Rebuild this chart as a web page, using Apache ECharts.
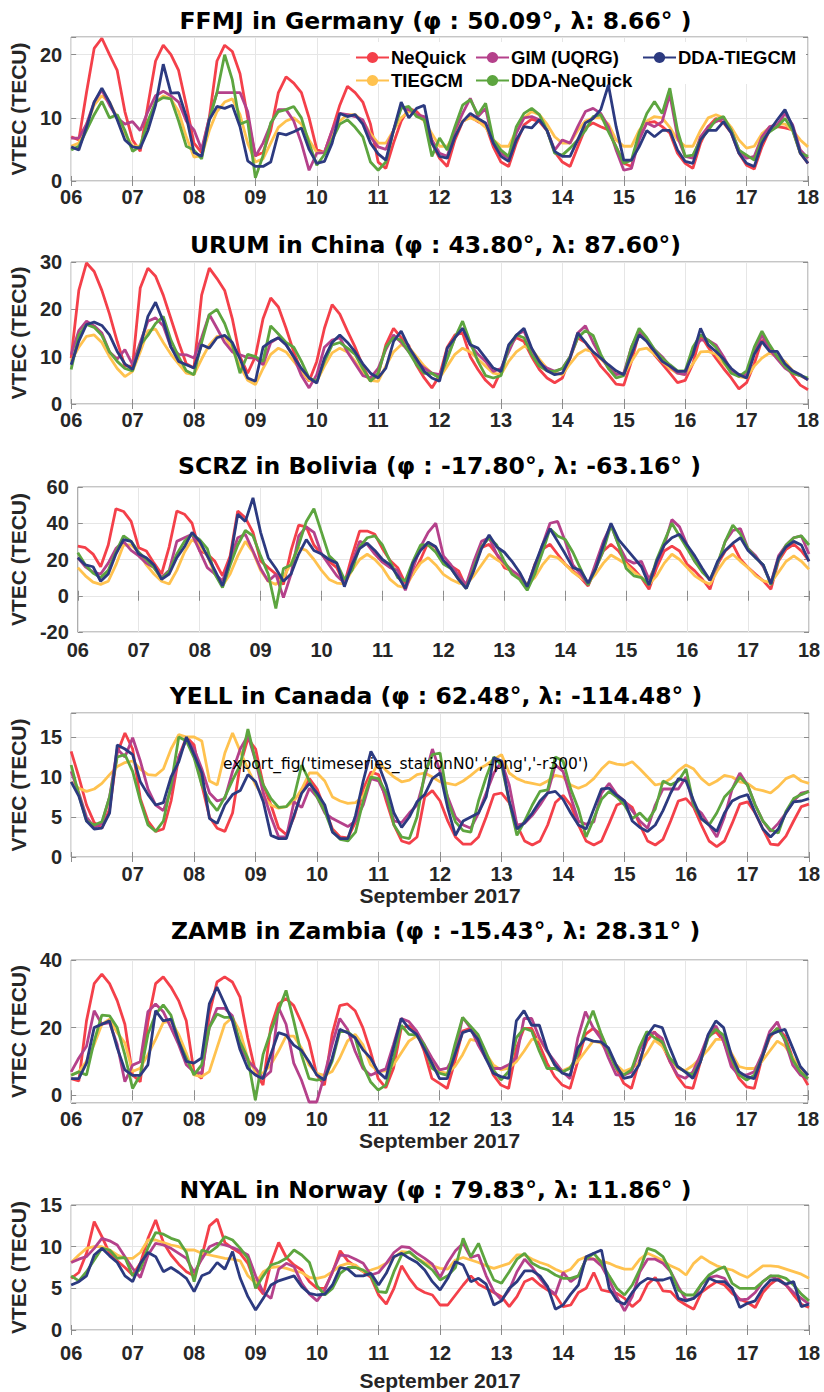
<!DOCTYPE html>
<html><head><meta charset="utf-8">
<script src="https://cdn.jsdelivr.net/npm/echarts@6/dist/echarts.min.js"></script>
<style>html,body{margin:0;padding:0;background:#fff}#c{width:824px;height:1392px}</style>
</head><body><div id="c"></div>
<script>
// ---------------- DATA (3-hourly samples, 6 Sep 00UT .. 18 Sep 00UT) ----------------
const seriesNames = ['NeQuick','TIEGCM','GIM (UQRG)','DDA-NeQuick','DDA-TIEGCM'];
const stationTitles = [
 'FFMJ in Germany (φ : 50.09°, λ: 8.66° )',
 'URUM in China (φ : 43.80°, λ: 87.60°)',
 'SCRZ in Bolivia (φ : -17.80°, λ: -63.16° )',
 'YELL in Canada (φ : 62.48°, λ: -114.48° )',
 'ZAMB in Zambia (φ : -15.43°, λ: 28.31° )',
 'NYAL in Norway (φ : 79.83°, λ: 11.86° )'];
const dayTicks = ['06','07','08','09','10','11','12','13','14','15','16','17','18'];
const xAxisTitle = 'September 2017';
const yAxisTitle = 'VTEC (TECU)';
const noteText = "export_fig('timeseries_stationN0','-png','-r300')";

const FFMJ_NeQuick = [7,6.5,14,21,22.6,20,17.5,11, 6.5,4.7,12,19,21.5,20,17.5,12, 6,4.5,10,19,21.5,20.5,17,10, 4,4.5,8,14,16.5,15.5,14,10, 5,4.5,8,12,15,14,12.5,9, 3,2,6,9.5,11.5,11,9.7,6, 3.6,2.3,6.5,9.4,10.2,9.4,8.9,5.4, 3,2.3,6,8.9,9.8,9.4,8,4.6, 3,2.3,5.4,8.4,9.2,8.6,8.1,5.4, 2.8,2.3,7,9.2,9.4,8.6,7.6,4.4, 2.8,2,6,8.6,9.9,9.2,7.6,4.4, 2.5,1.9,5.4,8.1,8.6,8.4,8.1,4.4, 2.8];
const FFMJ_TIEGCM = [5.5,6,9,12,13.5,12.5,10,7.5, 5.5,5.5,9,12.5,13.5,13,11,7, 3.8,4,8,11,12.5,13,10.5,6, 3,3.5,6,8.5,9.5,10,9,6.5, 4.5,4.5,7,9.5,10.5,10.5,9.5,7.5, 6,6,8,10,11,10.5,9.5,7.5, 5.5,5.5,7.5,9.5,10,9.5,8.5,6.5, 5.5,5.5,8,10,11,10.5,9,7, 6,6,8,9.5,10,10,9,6.5, 5.5,5.5,8,9.5,10.2,10,8.5,6.5, 5.5,5.5,8,10,10.5,10,8.5,6.5, 5.2,5.5,7.5,8.5,9,9,8,6.5, 5.4];
const FFMJ_GIM = [6.8,6.8,9,12.5,14.4,12,10,9, 9.4,8,11,13.5,14.2,13.5,12.5,9.5, 8.1,5,10,14,14,14,14,11, 3.9,6,9,11.3,11.3,9.5,6,1.7, 4.4,4.5,8,10.7,10.5,10.2,9.7,7, 5.4,5,8,11.8,11.3,10.5,10.2,6.5, 4.4,3.9,8,10.7,13.1,10.2,11.5,6, 4.4,3.6,7.6,10,10.2,9.7,8,4.9, 6.5,6,8.6,11,11.5,10.7,8.6,4.9, 1.7,2,6.5,9.2,8.6,9.4,13.7,7, 3.9,3.6,7,8.6,9.4,9.9,8,4.9, 3.6,3.9,7,8.6,8.9,10.7,8.9,4.9, 3.6];
const FFMJ_DDANeQuick = [4.9,5.5,8,10.5,12.6,10,10.5,8, 4.7,5.5,9.5,12.5,13.2,13,9.5,5.5, 4.9,3.5,9.7,14,20,16,9,9.5, 0.5,4,9.2,11,11.3,11.8,10,6, 2.5,4.2,6.5,9,9.7,8.5,7,3, 1.7,3,8,11.5,11.8,10.2,9.7,3.9, 6.8,4.9,8.6,12,12.9,10.5,12.3,6.5, 4.9,3.9,8.6,10.7,11.5,10.5,8,4.4, 4.1,5.2,6.5,8,10.2,10.5,7.8,5.4, 2.8,3.3,7.6,10.7,12.6,10.7,14.7,8, 3.9,4.1,6.5,8,9.7,10.2,8,4.9, 4.1,3.3,6.5,7.8,8.6,9.9,8,4.4, 3.9];
const FFMJ_DDATIEGCM = [5.4,4.9,8.5,12.5,14.7,12.5,9.7,6.5, 5.4,5.2,8,12,18.5,13.9,14,10.2, 4.5,3.9,9.7,11.8,11.5,12,8.6,3.2, 2.3,2.3,3,7.6,7.3,7.8,8.4,5, 2.8,3.1,6,10.7,10.2,10.5,9,6, 4.3,3.3,8,12.5,10,11.5,12,6, 3.9,3.6,7,9.4,10.7,9.9,9.2,6, 3.9,3.1,6.5,8.6,8.4,9.7,8,4.7, 3.9,3.9,6.5,9.2,9.9,11.3,15.2,8.6, 3.3,3.3,5.4,8,7,8,8,4.9, 3.1,2.8,6.5,8,8,9.4,7.6,4.4, 2.8,2.3,6,8,9.7,11.3,8.6,4.4, 2.8];

const URUM_NeQuick = [9.7,24,29.8,28,24,19,13.2,8, 8,24.5,28.7,27,23,18,13,8.5, 7.6,23,28.7,26.5,24,18,10,6.5, 10,18,22.4,20.5,16,11,7,4.8, 9,16,21,19,15.4,12,8,4.8, 6.2,12.5,16,14,12.3,8.2,5.5,3.4, 6,12,14.6,15,10,7.3,5,3.5, 7,12,14,13.2,10,7.3,5.5,4.5, 5.5,9.7,14,13,10.5,8,6.2,4.2, 4,9,15,13.5,10.4,8.5,6.5,4.5, 5,8.5,14.6,12,9.7,7.5,5.5,3.2, 4.5,8.5,13.5,12,10,8.5,6,4, 3];
const URUM_TIEGCM = [9,12,14.3,14.6,13,10,7.5,5.8, 6.9,11,15.5,15.8,13,10.5,8.5,6.5, 6.2,9.5,12.5,14.3,14.3,11.5,8,5, 4.1,7.5,10.5,11.8,11,9,7,5, 4.8,8,10.8,11.8,11,9,6.5,5, 4.8,8,11,12.5,12,10,8,6.5, 5.5,8,10.5,11.8,11,9.5,8,6.5, 6.2,9,11,12.2,11.5,9.5,7.5,6.5, 6.2,8.5,10.5,11.5,11,9.5,8,6.8, 6.2,9,11.5,11.8,10.5,9,7.5,6.5, 6.2,8.5,11,11.1,10.5,8.5,7,5.8, 5.5,8,9.7,10.8,10,9,7,6, 5.1];
const URUM_GIM = [10.4,15.5,17.5,16.5,15,11,9.5,11.5, 8.3,13,17.5,18.2,16.5,12,10.5,10.4, 9.7,14,18.9,16,13,11,10.4,9.8, 9.7,8.3,13,14,12.5,10,6,3.4, 6.2,12,13.5,14,11,8.5,6,5.5, 7.5,11.5,14.6,13,11,9,7.6,6.5, 6.2,10,14,16,12.5,10.5,9,6.9, 7.5,11,14.6,15.4,11.5,8.5,7.6,6.9, 7.5,10,15,16.5,13,10,7.6,6.2, 6.5,12,15.4,13.5,11.5,10,8,6.5, 6.2,11.5,13.5,13.5,12.5,10,7,6.2, 6.2,11,14.6,11.5,9.5,7.6,6.5,6, 5.1];
const URUM_DDANeQuick = [7.3,14.5,16.8,16.2,14.5,11,9,7.5, 7,12.5,14.5,17,18.5,13.5,10,7, 6.2,13,18.9,20,17,12.5,6.5,10.5, 10,9,16.5,14.8,13,12,9,5.5, 4.8,9,12.5,13,11.8,10.5,7.5,4.8, 6.5,12,14,13.5,11,8.3,6.5,6.5, 5.5,9.5,14,17.5,13,9,6,5.5, 6,12,14.6,14,10.4,8,7,6.9, 7.5,10,14,15.5,14.5,10.5,7.5,5.5, 6,12,16,14,11.5,9.7,8.3,7, 7,12,14.6,13.5,12,9,6.5,5.8, 7,12,15.4,12.5,10,8,6.5,6, 5.5];
const URUM_DDATIEGCM = [8.3,13.3,16.8,17.3,16.6,14.6,11.1,8.5, 7.3,12,18.5,21.5,17.5,12,9,8.3, 7.6,12.5,11.8,14,14.5,13,9.5,5.5, 4.8,12,13.2,14,12.5,10,7.5,5.5, 4.4,9.7,13,14.6,13,11,8.5,6.5, 5.5,7.6,13.2,15.4,12,9.5,6.9,5.5, 4.8,11.8,14,16,12.5,11.8,9.7,7.6, 6.9,12.5,14.5,16,11.8,9,7,6.2, 6.5,9.7,15,13,11,9.7,8.3,7, 6.2,10.4,14.6,13.2,11.1,9,8,6.9, 6.9,10.4,16,12.5,11.1,9.5,7.5,6.2, 5.5,10.5,13.2,11.1,11.1,8.5,7,6.2, 5.1];

const SCRZ_NeQuick = [27.4,26.5,23,16,28,48,46.5,41, 26.5,24.7,18,12,27,46.8,45,40, 24.7,23,19,11,22,46.8,43,35, 19.2,15.5,12,6.3,25,39,38,28, 23,19,15.5,6.5,22,35.7,35.7,33.9, 26,19.5,15.5,7,12,20,29.5,26.5, 19,16.4,13.7,4.5,15.5,26.5,28.4,22.9, 15.5,13.7,10,4.5,17.3,25.6,28.4,22.9, 17.3,13.7,10,5.4,15.5,24.7,28.4,24.7, 18.3,14.6,10,3.6,15.5,24.7,27.4,24.7, 17.3,13.7,9.1,3.6,17.3,24.7,28.4,20.1, 15.5,11.8,8.2,3.6,19.2,25.6,28.4,24.7, 19.2];
const SCRZ_TIEGCM = [15.5,11,7.5,6.3,8,17,28,28, 24,17,12,8,6.5,14,24,31, 28,22,12,5.5,12,22,30,24, 14,8,6.3,10,18,26.5,25,20, 14,9,7,6.5,14,20,22.9,20, 15.5,9,5.5,4.5,12,18,21,17, 11.8,9,7,6.3,11,17,22.9,20, 17.3,13,10,6.5,10,17,22,21, 17.3,13,10,7.2,12,18,22.5,20, 17.3,13,10,6.3,11,18,22.9,20, 15.5,11,8.2,6.3,14,20,22.9,19, 15.5,11,8.2,7.2,13,19,22,19, 14.6];
const SCRZ_GIM = [21,16,13,12,18,26,30,25, 22,18,15.5,10,14,30,32,33.9, 24.7,15.5,12,8.2,20,32,33.9,24.7, 15,8,11.8,-1,12,33,38,35, 23,17,11,7,18,30,28.4,23, 18.5,15.5,14,3,15,27,35,40, 22,17,11,6.3,19,30,32,23, 18,14,11,5,15,28,40,41, 30,17,12,6,18,30,39,28, 20,18,19,9,18,28,42,38, 28,19,14,8.5,17,30,36,37, 26,22,16,7,22,28,32,33, 23];
const SCRZ_DDANeQuick = [23.8,17,12.5,10,14,24,33,30, 24,20,15.5,9.5,13.5,23,30,33.9, 31,26,12,4.5,17,28,36,33, 22,12,-7,15,17,28,41,48, 35,22,18,9,14,27,32,33, 28,19,10,8.2,19,28,28,24, 17.5,15,9,4,15.5,27,32,28, 19,12,9,3,12,24,37,33, 31,24,15,6,15,25,39,28, 15,11,10,6,20,30,40,33, 26,19,13,9,18,30,39,34, 26,21,17,6,20,28,32,33, 28];
const SCRZ_DDATIEGCM = [21,17,16,8,12,23,31,30, 23,21,17,9,12,21,27,35, 30,22,14,5.5,20,45,41,54, 35,21,15,8,12,23,31,25, 23,20,18,5,17,26,29,25, 20,17,11,4,18,25,29.5,27, 19.5,15,9,4,14,26,33.5,27, 24,19,13,5,17,28,37,30, 23,15.5,14,7,15,28,40,31, 26,21,16,6,19,28,32,33.9, 28,22,15,8.5,19,25,29,32, 25,21,17,6.5,21,27,30,28, 19];

const YELL_NeQuick = [13.2,10,6.5,4.3,3.6,6,13,15.5, 13.5,7.3,4.5,3.2,3.5,7,12.5,15, 14,9,5,3.6,3.2,5.5,11.5,14.8, 13.5,9,6.5,3.6,2.8,5,8.4,9.8, 8.5,6,3.5,2.5,2.4,4.4,8.5,10.6, 10.3,7,4,2,1.7,2.5,7.5,8.3, 7,4.5,2.5,1.6,1.6,2.5,5,7.8, 8,6.8,4,2,1.5,2,4,6.8, 7.7,6.5,4,2,1.5,2,4.2,6.5, 6.9,6.2,4,2,1.5,2.2,4.5,7, 7.3,6.2,4,2,1.3,2,4.2,6.6, 6.9,5.5,3.5,1.6,1.5,2.6,4.5,6.3, 6.6];
const YELL_TIEGCM = [9.4,8.6,8.2,8.5,9.2,10.3,11.3,11.8, 12,11,10.3,10.2,11,13.5,15.3,15, 15,14.5,9.5,9,13,15.5,13.2,11, 9,7.5,6.5,6.1,6.3,7,8.5,10.5, 10.5,9.5,7.5,7,6.7,6.8,7.6,10, 11.9,10.8,10,9.4,9.6,10.3,10.5,10, 9.4,9.2,9,9.5,10.2,11,11.5,12.2, 12.8,10.5,9.8,9.4,9.2,9,9.5,10.2, 10,9,8.6,9,9.8,11,11.9,11.6, 11.5,11.9,11,10,9,9.2,9.8,10.8, 11.5,11,9.8,9,9.5,10.2,10,9.4, 9.2,8.5,8.3,8,8.8,9.8,10.2,9.5, 9.2];
const YELL_GIM = [10.7,8,5,3.7,4.2,7.5,13.5,12.5, 14.9,12,8.5,6.5,5.8,8.5,12.5,14.7, 13.5,11,8,7,7.3,10.7,13.5,15.2, 12,8,5,2.5,2.5,6.9,6.2,8.6, 7.5,5.5,4.8,4.3,3.8,4.5,6.5,9.8, 9.5,7.5,4.5,4.3,5.5,6.5,10,13.5, 10.7,7.5,5,4,3.6,5.5,8,10.5, 11.9,9,4,4.2,5.2,6.5,8,11.5, 10.7,7.5,4.5,4.1,4.4,8,9.2,7.8, 7,5.8,4.5,3.6,6.5,8.5,8.5,8.5, 10,6.3,5.5,4,2.5,5,8.5,10.5, 9,6.5,4.5,3.2,4.2,5.5,7,8, 8.2];
const YELL_DDANeQuick = [11.5,7.8,4.5,4,4.4,7.5,12.5,12.8, 10.7,7,4,3.2,4.5,9,15,14.5, 12.4,9,7,5.8,7.5,9.6,11.5,16, 12,9,7.3,6.2,6.3,7.5,11.5,9.5, 7.5,5.7,3.2,2.2,2,3.1,7,10, 9.8,8,4,2.5,2.3,5,10.5,12.8, 13,7,4.4,3.3,3.1,7,10,12.5, 11.5,6.9,2.7,4.5,6.5,8.2,8.4,12.5, 12,8.5,6,2.5,4.8,7.2,8.2,7.5, 6.5,4.8,5.5,4.5,6,9.5,9,9.5, 11,6.5,4.8,4,5.5,7.5,8.5,10, 9,6.5,4.5,3.4,3,5.7,7.3,7.8, 8.2];
const YELL_DDATIEGCM = [9.4,7.6,4.5,3.5,3.6,5.5,14,13.5, 12.8,9.4,7.8,6.5,6.8,10,11.9,15, 12.8,10.5,4.8,4.2,6.5,7.8,8.3,10.3, 9.4,6.9,2.7,2.3,2.3,5.2,8,9.2, 8,6.5,3.1,2.3,2.3,5.2,9.5,13.2, 11.5,9,5.5,3.7,5,6.9,7.8,9.8, 10.5,6.1,2.7,4.5,5,5.5,7.5,12.4, 12,7,3.5,4.3,5.5,7,8,8.2, 7.2,5.5,4,3.5,6,8.5,8.6,7.7, 7,4.5,3.7,3.2,4,5.8,8,9.8, 9.5,7,4.8,4,3.2,5.5,7,7.5, 7.8,5.5,3.5,2.5,3.5,5.5,6.9,7, 7.3];

const ZAMB_NeQuick = [4.9,4.2,22,33,35.8,33,28,21, 6,4,21.7,33,35,32,28,22, 6.9,5,24,33.5,35,33.5,29,17, 7,3,20,27,28.6,26.5,21.5,15.8, 6,3,18,26.5,27,25,20,13, 4.9,2.2,8,19.8,20.5,18.8,13,5, 3.5,2,10,19,19.8,16.8,12,6, 3,2,13.8,19.8,19.8,15,9.5,5.5, 3,2,10,18,19.8,18,13,8, 3.5,2,10,16,18.8,15,10,5.5, 2.5,2,10,17.5,18.8,16,10,5, 2.5,2,11,17,19.8,17.5,11,6.9, 3];
const ZAMB_TIEGCM = [5.9,6.9,10,15,21,22.5,18.5,15.5, 7,8,12,16.5,21.5,22,18,12.5, 6,5.5,7,14,21,23,18.8,11, 7,6.5,9,13,17.5,17.5,14,9, 6.5,5.9,7,11,16,18,15,9, 7,7.2,9,12.5,16,17.5,14.8,10, 7,6.5,8.5,12,16.5,16,12.5,9, 7.5,8,9.9,13,16.5,16.5,13,9, 7.2,8.3,10,13,16,15.5,12.5,9, 7,8,9.5,12.5,16.3,14.5,11,8, 7.3,8.8,11,13.5,16.5,16.5,12.5,8.5, 7.9,7.9,10,13,16,14.5,11.2,8, 5.9];
const ZAMB_GIM = [6.9,11,14.5,25,21,21.5,15,4, 8.9,9.9,24.7,27,24.7,20,15,9, 6.9,6.5,20,25.7,25.7,23.5,14.8,10.2, 8,5,7,26,21,9.5,4.5,-2, -2,5.9,15,22.7,19.5,13,8,5.9, 6.9,7.8,15,22.7,21.8,19,15,11, 7.5,8,12,23,20,15,11,7.9, 7.9,9,11,22.7,22.7,17,13,10, 7,4.9,16.8,24.7,20,16.8,11,6, 5.9,6.9,13,18,18.5,16.8,10,6, 5,6.9,12,17.8,20.5,16,8.5,5.9, 6,6.9,12,18.8,21.7,16,9,6, 4.9];
const ZAMB_DDANeQuick = [5.9,6.9,6,16,23.7,23.5,20,11.9, 2,6,18,24,26.7,23.7,16,11, 6,9,20,24,23,23,15.8,11, -1.5,12,18.8,25,31,22,12,4.9, 4.5,5,10,18.8,18.8,17,9,4, 1.5,3,11,20.7,18,17.8,15,8, 6.5,5.9,15,23,20.5,18,13,7.5, 4.5,7,17,19.8,19,13,7.9,7.9, 6.9,8,12,19.5,25,18.5,13,8, 6,7.5,14,18.8,17,15.8,11,8.5, 6.9,6,10,17,19.5,17.8,11,6, 4.5,5.9,11,17.5,19.8,16.5,10.5,6.9, 4.9];
const ZAMB_DDATIEGCM = [4.9,4.9,9.5,20,21,22,14,7.5, 5.9,5.9,9,25,22,22.5,16,10, 9.5,11,27,32,27,22,13.5,8, 6,4.9,12,18.5,17.8,14.8,13.3,9.9, 6,4.5,10.9,19.5,18.5,17,13.5,11, 6.9,4.9,14,22.7,19.8,18,13.8,9.5, 4.9,4.9,12,18.5,19.3,16.5,11,6.5, 5.5,5,22,25,20.7,20.7,13.5,9, 6.5,5.9,14,16.8,16,15.8,14,9, 5,5.5,9,17.5,20.7,20,14,8.5, 6.9,5,10,18,22,20,12,7, 5.5,4.9,11,17.8,18.8,19.5,14,8.5, 5.9];

const NYAL_NeQuick = [6.2,6.9,9.2,13,11.2,9.2,8.3,7.5, 6.6,8,11,13.2,10.5,9,7.9,7, 6.5,8.8,12.5,13.3,10.5,9.8,9.2,8, 5.5,4.3,8,10.5,8.7,7.8,7.2,5.8, 5,5,6.9,9.5,8.3,7.6,7,6.3, 4.2,3.1,5,7.7,6.2,5,4.5,4.2, 3,3,4.2,5.4,6.5,5.5,5,4.5, 4,2.8,4,5.8,6.2,5.4,4.8,4.2, 2.8,3,4.5,5,6.9,4.8,4.6,4.4, 3.8,2.8,3.6,5.5,6.3,4.7,4.6,3.6, 3,2.5,4.5,5.2,5.8,5.4,4.4,3.7, 3.3,2.7,4.5,5.5,6.2,5.4,4.2,3.1, 2.7];
const NYAL_TIEGCM = [8.1,9,9.8,10,10,9.6,9,8.6, 8.6,9.3,10.8,10.8,10.5,10.2,10,9.6, 9.6,9.2,9,8.8,8.6,8.5,8.3,6.5, 5.6,7,7.5,7.6,7.4,7.1,6.9,6.3, 6.2,6.4,7,7.7,8,7.8,7,7.2, 7.5,8,8.7,9.4,9.3,8.6,8.1,7.7, 7.4,7.3,8.4,8.7,8.4,8.1,7.7,7.4, 7.7,8,9,9,8.5,8.1,7.8,7.3, 6.9,7.3,8.4,8.8,8.5,8.3,8,7.6, 7.3,7.3,8.5,9.2,8.8,8.3,7.7,7.3, 6.6,8,8.8,8.2,7.7,7.4,7.2,6.7, 6.3,7,7.7,7.7,7.6,7.3,7,6.7, 6.2];
const NYAL_GIM = [8.1,8.5,8.8,9.8,11,10.7,10.2,8.8, 7.4,6.3,9,10.4,10.2,9.8,9.2,8.6, 6.9,8.5,10,10.4,10.2,9.9,9.5,9, 6.5,4.5,3.8,7.3,8,7.6,5.6,4.3, 3.5,4.8,7,9,8.9,8.5,8,6.6, 6.9,8,9.3,10,9.9,9.2,8.6,7.9, 6.3,8.1,9.5,10.4,8.7,9,6.5,4.6, 3.6,4.8,7,8.5,7.5,6.2,5,4.3, 6.9,5.8,6.5,8.5,8.5,7.7,6,4, 2.3,4,7,8.5,8.5,8,7,5.2, 3.6,3.8,5.5,6.3,6.5,6.2,4.8,3.6, 3.7,4.5,5.8,6.5,6,5.4,4.5,3.8, 3.1];
const NYAL_DDANeQuick = [6.5,5.9,7,8.4,9.8,9.6,8.6,8.7, 6.5,7.3,9.9,11.7,11.5,11,10.7,9.3, 5.8,9.6,9.3,10,11.2,10.8,9.8,8.6, 5,6.5,7.8,8.1,8.6,9.6,9,8.1, 5.3,4.2,5,6.8,7.5,7.5,7.2,6.5, 4.6,4.5,7,9,9.4,8.6,7.9,7.2, 6,6.5,7.5,11,8.8,10.4,8,6, 5.6,7,8.5,9.2,8,7.5,7.2,6.6, 6.2,6.2,6.5,8.5,9.2,8.1,6.5,5, 4.2,5.4,7.3,9.8,9.5,8.8,7,4.8, 4.2,4.2,5.5,6.6,7.2,7.6,5.6,5, 5,5,5.8,6.5,6.5,6.2,5.4,4.3, 3.5];
const NYAL_DDATIEGCM = [5.4,5.8,6.5,9,9.8,8.9,8.1,6.5, 5.8,8,9.3,8.8,7,7.5,6.9,6.2, 4.6,6.5,6.9,8.1,7.3,9.4,6.2,4, 2.4,3.8,5.4,5.9,6.2,6.5,5.2,4.4, 4.2,4.3,5.4,7.5,7.3,6.5,6.5,6.8, 5.4,6.8,8.8,9.2,8.6,8.1,7.2,5.8, 4.8,6.2,8.2,7.8,5.8,6.2,5.5,3, 3.5,5,5.8,7.1,7.1,6.5,5.2,2.5, 3,4.3,5.4,8.8,9.2,9.6,5,3.5, 3.1,4.5,5.6,6.2,6,6,6.3,3.8, 3.5,3.8,4.6,6.2,5.8,5.8,5,2.7, 3.2,3.5,5,6,6,5.5,5.8,2.8, 3.1];

const stationSeries = [
  [FFMJ_NeQuick, FFMJ_TIEGCM, FFMJ_GIM, FFMJ_DDANeQuick, FFMJ_DDATIEGCM],
  [URUM_NeQuick, URUM_TIEGCM, URUM_GIM, URUM_DDANeQuick, URUM_DDATIEGCM],
  [SCRZ_NeQuick, SCRZ_TIEGCM, SCRZ_GIM, SCRZ_DDANeQuick, SCRZ_DDATIEGCM],
  [YELL_NeQuick, YELL_TIEGCM, YELL_GIM, YELL_DDANeQuick, YELL_DDATIEGCM],
  [ZAMB_NeQuick, ZAMB_TIEGCM, ZAMB_GIM, ZAMB_DDANeQuick, ZAMB_DDATIEGCM],
  [NYAL_NeQuick, NYAL_TIEGCM, NYAL_GIM, NYAL_DDANeQuick, NYAL_DDATIEGCM]];

// ---------------- STYLE / LAYOUT ----------------
const colors = ['#F4404A', '#FFC24F', '#B5418B', '#5DA53F', '#2C3A80'];
const layout = [
 {left:63, top:37,   width:745, height:144, ymin:0,   ymax:22.8, step:10, lm:6,  yg:36, ty:21,   first:true,  xname:false},
 {left:63, top:262,  width:745, height:142, ymin:0,   ymax:30,   step:10, lm:6,  yg:36, ty:245,  first:true,  xname:false},
 {left:70, top:487,  width:739, height:145, ymin:-20, ymax:60,   step:20, lm:8,  yg:43, ty:466,  first:true,  xname:false},
 {left:63, top:713,  width:746, height:144, ymin:0,   ymax:18,   step:5,  lm:7,  yg:36, ty:696,  first:false, xname:true, ng:22},
 {left:63, top:960,  width:745, height:143, ymin:-2.3,ymax:40,   step:20, lm:6,  yg:36, ty:931,  first:true,  xname:true, ng:25, free:true},
 {left:62, top:1205, width:747, height:130, ymin:0,   ymax:15,   step:5,  lm:13, yg:35, ty:1190, first:true,  xname:true, ng:40}
];
const frame = '#8c8c8c', ink = '#262626';
const tickFont = {fontFamily:'Liberation Sans', fontWeight:'bold', fontSize:20, color:ink};

const grids = [], xAxes = [], yAxes = [], xAxes2 = [], yAxes2 = [], series = [], graphics = [];
layout.forEach((L, p) => {
  grids.push({left:L.left, top:L.top, width:L.width, height:L.height, show:true, borderColor:frame, borderWidth:1, backgroundColor:'#fff', containLabel:false});
  xAxes.push({
    type:'value', gridIndex:p, min:6, max:18, interval:1,
    axisLine:{show:false}, axisTick:{inside:true, length:5, lineStyle:{color:frame}},
    splitLine:{show:true, lineStyle:{color:'#e6e6e6', width:1}},
    axisLabel:Object.assign({margin:L.lm, formatter:v => (Number.isInteger(v) && (L.first || v !== 6)) ? dayTicks[v-6] : ''}, tickFont),
    name: L.xname ? xAxisTitle : '', nameLocation:'middle', nameGap:L.ng || 0,
    nameTextStyle:{fontFamily:'Liberation Sans', fontWeight:'bold', fontSize:21, color:ink}
  });
  xAxes2.push({type:'value', gridIndex:p, position:'top', min:6, max:18, interval:1,
    axisLine:{show:false}, axisTick:{inside:true, length:5, lineStyle:{color:frame}},
    splitLine:{show:false}, axisLabel:{show:false}});
  const ya = {
    type:'value', gridIndex:p, min:L.ymin, max:L.ymax,
    axisLine:{show:false}, axisTick:{inside:true, length:5, lineStyle:{color:frame}},
    splitLine:{show:true, lineStyle:{color:'#e6e6e6', width:1}},
    axisLabel:Object.assign({margin:9, formatter:v => { const q = v / L.step; return Math.abs(q - Math.round(q)) < 1e-6 ? String(Math.round(v)) : ''; }}, tickFont),
    name:yAxisTitle, nameLocation:'middle', nameGap:L.yg,
    nameTextStyle:{fontFamily:'Liberation Sans', fontWeight:'bold', fontSize:21, color:ink}
  };
  const ya2 = {type:'value', gridIndex:p, position:'right', min:L.ymin, max:L.ymax,
    axisLine:{show:false}, axisTick:{inside:true, length:5, lineStyle:{color:frame}},
    splitLine:{show:false}, axisLabel:{show:false}};
  if (L.free) { [ya, ya2].forEach(a => { a.splitNumber = 2; a.minInterval = L.step; a.maxInterval = L.step; }); }
  else { ya.interval = L.step; ya2.interval = L.step; }
  yAxes.push(ya); yAxes2.push(ya2);
  stationSeries[p].forEach((arr, k) => {
    series.push({
      type:'line', name:seriesNames[k], xAxisIndex:p, yAxisIndex:p,
      data:arr.map((v, i) => [6 + i / 8, v]),
      symbol:'none', lineStyle:{color:colors[k], width:2.8}, itemStyle:{color:colors[k]},
      z:2 + k, animation:false, clip:true
    });
  });
  graphics.push({type:'text', x:L.left + L.width / 2, y:L.ty, z:10,
    style:{text:stationTitles[p], fill:'#000', font:'bold 23.5px "DejaVu Sans"', align:'center', verticalAlign:'middle'}});
});
// white legend box inside first panel
graphics.push({type:'rect', shape:{x:350, y:42, width:456, height:42}, style:{fill:'#fff'}, z:1});
// stray text annotation in YELL panel
graphics.push({type:'text', x:223, y:764, z:10, style:{text:noteText, fill:'#000', font:'15.5px "DejaVu Sans"', align:'left', verticalAlign:'middle'}});

const legendBase = {orient:'vertical', itemWidth:33, itemHeight:14, itemGap:4, padding:0,
  textStyle:{fontFamily:'Liberation Sans', fontWeight:'bold', fontSize:18.5, color:'#000', padding:[0,0,0,-3]}, selectedMode:false, z:5};
const legends = [
  Object.assign({left:355, top:48, data:[seriesNames[0], seriesNames[1]]}, legendBase),
  Object.assign({left:475, top:48, data:[seriesNames[2], seriesNames[3]]}, legendBase),
  Object.assign({left:642, top:48, data:[seriesNames[4]]}, legendBase)
];

const chart = echarts.init(document.getElementById('c'), null, {renderer:'svg', width:824, height:1392});
chart.setOption({
  backgroundColor:'#fff', animation:false,
  grid:grids, xAxis:xAxes.concat(xAxes2), yAxis:yAxes.concat(yAxes2), series:series, legend:legends, graphic:graphics
});
</script></body></html>
